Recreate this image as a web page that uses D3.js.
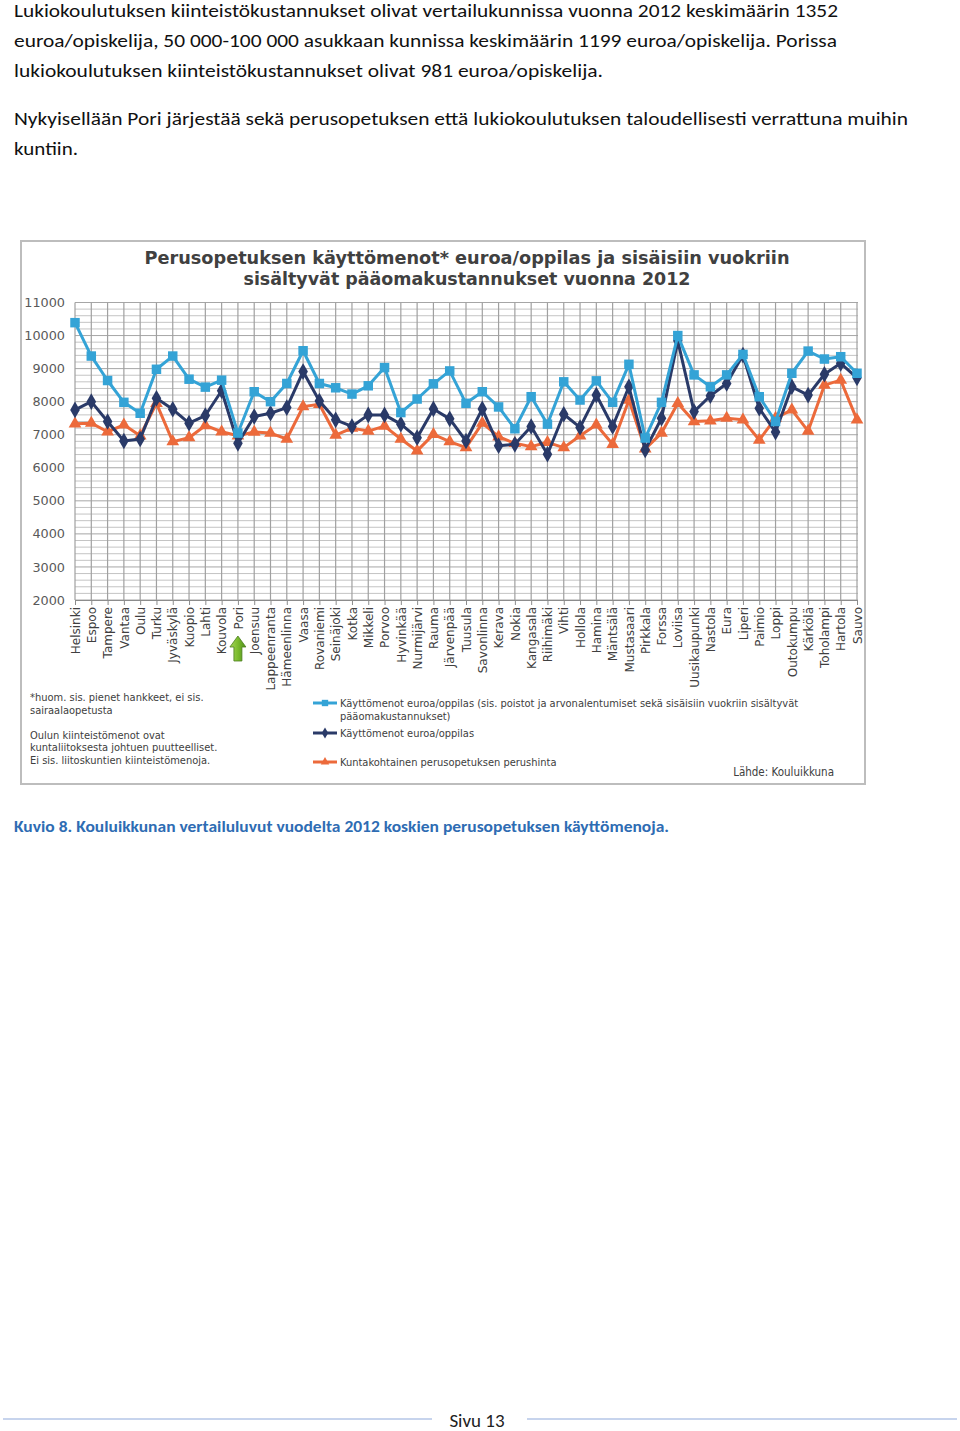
<!DOCTYPE html>
<html>
<head>
<meta charset="utf-8">
<script src="https://cdn.jsdelivr.net/npm/d3@7"></script>
<style>
  body { margin: 0; background: #fff; }
  svg { display: block; }
</style>
</head>
<body>
<script>
// kunnat ja sarjat (luettu kuvasta)
const kunnat = ["Helsinki", "Espoo", "Tampere", "Vantaa", "Oulu", "Turku", "Jyväskylä", "Kuopio", "Lahti", "Kouvola",
  "Pori", "Joensuu", "Lappeenranta", "Hämeenlinna", "Vaasa", "Rovaniemi", "Seinäjoki", "Kotka", "Mikkeli", "Porvoo",
  "Hyvinkää", "Nurmijärvi", "Rauma", "Järvenpää", "Tuusula", "Savonlinna", "Kerava", "Nokia", "Kangasala", "Riihimäki",
  "Vihti", "Hollola", "Hamina", "Mäntsälä", "Mustasaari", "Pirkkala", "Forssa", "Loviisa", "Uusikaupunki", "Nastola",
  "Eura", "Liperi", "Paimio", "Loppi", "Outokumpu", "Kärkölä", "Toholampi", "Hartola", "Sauvo"]

const sisVuokrat = [10390, 9380, 8640, 7980, 7650, 8980, 9380, 8680, 8440, 8650,
  7050, 8300, 8000, 8550, 9540, 8550, 8420, 8230, 8480, 9030,
  7670, 8080, 8540, 8930, 7950, 8300, 7840, 7180, 8150, 7320,
  8600, 8050, 8630, 7980, 9130, 6900, 7980, 10000, 8810, 8450,
  8810, 9430, 8150, 7400, 8860, 9530, 9290, 9360, 8860]

const kayttomenot = [7750, 8000, 7400, 6810, 6870, 8100, 7770, 7350, 7580, 8330,
  6740, 7550, 7650, 7820, 8910, 8020, 7450, 7250, 7600, 7600,
  7320, 6910, 7780, 7480, 6810, 7780, 6670, 6710, 7250, 6410,
  7620, 7220, 8200, 7250, 8450, 6540, 7500, 9840, 7700, 8180,
  8550, 9410, 7800, 7080, 8450, 8200, 8830, 9160, 8720]

const perushinta = [7330, 7350, 7090, 7300, 6970, 7950, 6790, 6910, 7280, 7090,
  6970, 7080, 7050, 6870, 7850, 7920, 6990, 7200, 7110, 7260,
  6870, 6510, 7010, 6790, 6610, 7350, 6940, 6740, 6640, 6770,
  6610, 6970, 7300, 6710, 8050, 6570, 7050, 7950, 7400, 7420,
  7500, 7450, 6840, 7500, 7750, 7110, 8500, 8650, 7450]

const yTicks = [2000, 3000, 4000, 5000, 6000, 7000, 8000, 9000, 10000, 11000]

const introLines = [
  "Lukiokoulutuksen kiinteistökustannukset olivat vertailukunnissa vuonna 2012 keskimäärin 1352",
  "euroa/opiskelija, 50 000-100 000 asukkaan kunnissa keskimäärin 1199 euroa/opiskelija. Porissa",
  "lukiokoulutuksen kiinteistökustannukset olivat 981 euroa/opiskelija."
]
const introLines2 = [
  "Nykyisellään Pori järjestää sekä perusopetuksen että lukiokoulutuksen taloudellisesti verrattuna muihin",
  "kuntiin."
]
const titleLines = ["Perusopetuksen käyttömenot* euroa/oppilas ja sisäisiin vuokriin",
  "sisältyvät pääomakustannukset vuonna 2012"]
const noteLines = ["*huom. sis. pienet hankkeet, ei sis.", "sairaalaopetusta", "",
  "Oulun kiinteistömenot ovat", "kuntaliitoksesta johtuen puutteelliset.", "Ei sis. liitoskuntien kiinteistömenoja."]

const W = 960, H = 1431
const svg = d3.select("body").append("svg").attr("width", W).attr("height", H)
const bodyFont = "Carlito, Lato, 'Open Sans', sans-serif"
const chartFont = "'DejaVu Sans', Verdana, sans-serif"
const narrowFont = "'Liberation Sans Narrow', 'DejaVu Sans Condensed', 'Arial Narrow', sans-serif"

// kappaleet
const introW = [824, 823, 589]
introLines.forEach((t, i) => {
  svg.append("text").attr("x", 14).attr("y", 17 + i * 30).attr("font-family", bodyFont).attr("font-size", 18.5)
    .attr("textLength", introW[i]).attr("lengthAdjust", "spacingAndGlyphs").attr("fill", "#111").text(t)
})
const intro2W = [894, 64]
introLines2.forEach((t, i) => {
  svg.append("text").attr("x", 14).attr("y", 125 + i * 30).attr("font-family", bodyFont).attr("font-size", 18.5)
    .attr("textLength", intro2W[i]).attr("lengthAdjust", "spacingAndGlyphs").attr("fill", "#111").text(t)
})

// kaavion kehys
svg.append("rect").attr("x", 21).attr("y", 241).attr("width", 844).attr("height", 543)
  .attr("fill", "#fff").attr("stroke", "#bdbdbd").attr("stroke-width", 2)

const titleW = [645, 447]
titleLines.forEach((t, i) => {
  svg.append("text").attr("x", 467).attr("y", 264 + i * 21).attr("text-anchor", "middle")
    .attr("font-family", chartFont).attr("font-weight", "bold").attr("font-size", 17)
    .attr("textLength", titleW[i]).attr("lengthAdjust", "spacingAndGlyphs").attr("fill", "#404040").text(t)
})

const x = d3.scalePoint().domain(kunnat).range([75, 857])
const y = d3.scaleLinear().domain([2000, 11000]).range([600, 302.5])

// ruudukko
const g = svg.append("g")
g.selectAll(".hgrid").data(d3.range(2000, 11001, 200)).enter().append("line")
  .attr("x1", 75).attr("x2", 858).attr("y1", d => y(d)).attr("y2", d => y(d))
  .attr("stroke", d => d % 1000 === 0 ? "#a6a6a6" : "#c4c4c4").attr("stroke-width", 1)
g.selectAll(".vgrid").data(kunnat).enter().append("line")
  .attr("x1", d => x(d)).attr("x2", d => x(d)).attr("y1", y(11000)).attr("y2", y(2000))
  .attr("stroke", "#a0a0a0").attr("stroke-width", 1.2)

// akselit
const yAxis = svg.append("g").attr("transform", "translate(75,0)")
  .call(d3.axisLeft(y).tickValues(yTicks).tickSize(0).tickPadding(10).tickFormat(d3.format("d")))
yAxis.select(".domain").remove()
yAxis.selectAll("text").attr("font-family", chartFont).attr("font-size", 12.8).attr("fill", "#595959")

const xAxis = svg.append("g").attr("transform", "translate(0,600)")
  .call(d3.axisBottom(x).tickSize(5).tickPadding(4))
xAxis.select(".domain").attr("stroke", "#8c8c8c")
xAxis.selectAll(".tick line").attr("stroke", "#8c8c8c")
xAxis.selectAll("text").attr("font-family", chartFont).attr("font-size", 12).attr("fill", "#404040")
  .attr("text-anchor", "end").attr("y", 0).attr("x", -7)
  .attr("transform", "rotate(-90)").attr("dy", "0.35em")

// sarjat
const series = [
  { name: "Käyttömenot euroa/oppilas (sis. poistot ja arvonalentumiset sekä sisäisiin vuokriin sisältyvät", name2: "pääomakustannukset)", values: sisVuokrat, color: "#34a3d6", marker: d3.symbolSquare, size: 90 },
  { name: "Käyttömenot euroa/oppilas", values: kayttomenot, color: "#2a3a68", marker: d3.symbolDiamond, size: 80 },
  { name: "Kuntakohtainen perusopetuksen perushinta", values: perushinta, color: "#ec6a3b", marker: d3.symbolTriangle, size: 70 }
]
const line = d3.line().x((d, i) => x(kunnat[i])).y(d => y(d))
series.slice().reverse().forEach(s => {
  svg.append("path").datum(s.values).attr("d", line).attr("fill", "none")
    .attr("stroke", s.color).attr("stroke-width", 3).attr("stroke-linejoin", "round")
  svg.append("g").selectAll("path").data(s.values).enter().append("path")
    .attr("d", d3.symbol().type(s.marker).size(s.size))
    .attr("transform", (d, i) => "translate(" + x(kunnat[i]) + "," + y(d) + ")")
    .attr("fill", s.color)
})

// vihreä nuoli Porin kohdalla
const defs = svg.append("defs")
const grad = defs.append("linearGradient").attr("id", "arrowGrad").attr("x1", 0).attr("x2", 1).attr("y1", 0).attr("y2", 0)
grad.append("stop").attr("offset", "0%").attr("stop-color", "#a6d65a")
grad.append("stop").attr("offset", "50%").attr("stop-color", "#7bbb2e")
grad.append("stop").attr("offset", "100%").attr("stop-color", "#4f8f1a")
const px = x("Pori")
svg.append("path")
  .attr("d", `M${px},636 L${px + 8},647 L${px + 4},647 L${px + 4},661 L${px - 4},661 L${px - 4},647 L${px - 8},647 Z`)
  .attr("fill", "url(#arrowGrad)").attr("stroke", "#4b7d1f").attr("stroke-width", 0.8)

// huomautukset
const noteY = [701, 714, 0, 739, 751, 764]
noteLines.forEach((t, i) => {
  if (!t) return
  svg.append("text").attr("x", 30).attr("y", noteY[i]).attr("font-family", narrowFont).attr("font-size", 11)
    .attr("fill", "#404040").text(t)
})

// selite
const legY = [703, 733, 762]
series.forEach((s, i) => {
  const lg = svg.append("g").attr("transform", "translate(313," + legY[i] + ")")
  lg.append("line").attr("x1", 0).attr("x2", 24).attr("stroke", s.color).attr("stroke-width", 3)
  lg.append("path").attr("d", d3.symbol().type(s.marker).size(s.size * 0.45)).attr("transform", "translate(12,0)").attr("fill", s.color)
  lg.append("text").attr("x", 27).attr("y", 4).attr("font-family", narrowFont).attr("font-size", 11)
    .attr("fill", "#404040").text(s.name)
  if (s.name2)
    lg.append("text").attr("x", 27).attr("y", 17).attr("font-family", narrowFont).attr("font-size", 11)
      .attr("fill", "#404040").text(s.name2)
})
svg.append("text").attr("x", 834).attr("y", 776).attr("text-anchor", "end").attr("font-family", narrowFont)
  .attr("font-size", 11.5).attr("fill", "#404040").text("Lähde: Kouluikkuna")

// kuvateksti
svg.append("text").attr("x", 14).attr("y", 832).attr("font-family", bodyFont).attr("font-weight", "bold")
  .attr("font-size", 15).attr("textLength", 655).attr("lengthAdjust", "spacingAndGlyphs").attr("fill", "#2e6cb3")
  .text("Kuvio 8. Kouluikkunan vertailuluvut vuodelta 2012 koskien perusopetuksen käyttömenoja.")

// alatunniste
svg.append("line").attr("x1", 3).attr("x2", 432).attr("y1", 1419).attr("y2", 1419).attr("stroke", "#8faadc").attr("stroke-width", 1.2)
svg.append("line").attr("x1", 527).attr("x2", 957).attr("y1", 1419).attr("y2", 1419).attr("stroke", "#8faadc").attr("stroke-width", 1.2)
svg.append("text").attr("x", 477).attr("y", 1427).attr("text-anchor", "middle").attr("font-family", bodyFont)
  .attr("font-size", 19).attr("fill", "#222").text("Sivu 13")
</script>
</body>
</html>
